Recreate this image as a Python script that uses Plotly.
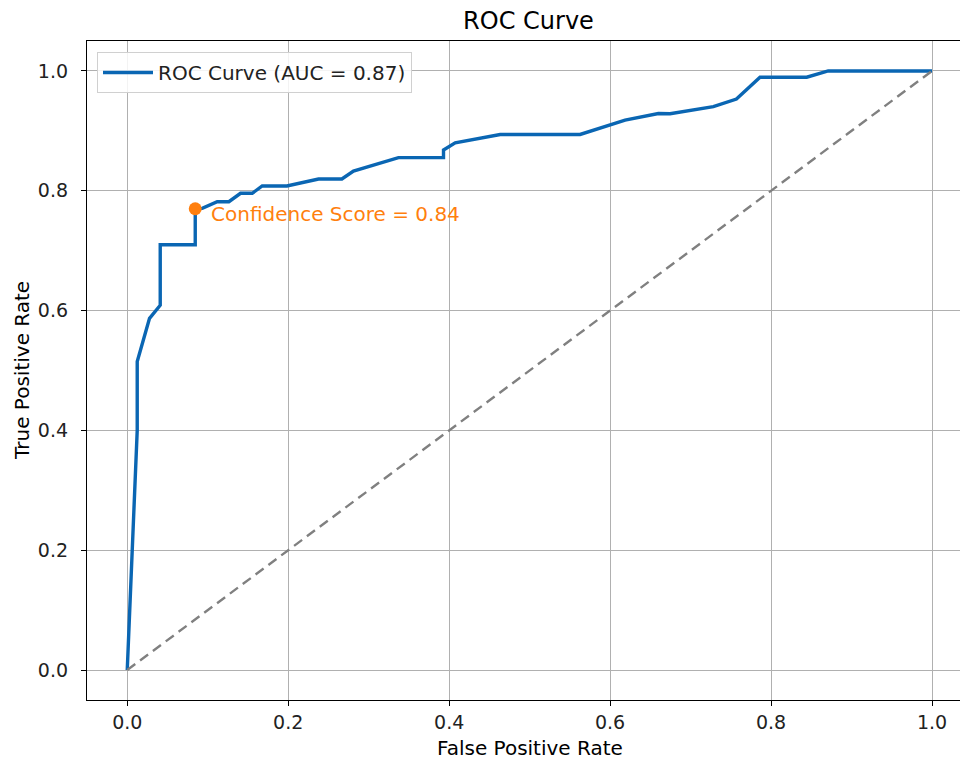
import plotly.graph_objects as go

# ROC curve values
fpr = [0.0, 0.0124, 0.0124, 0.0277, 0.041, 0.041, 0.0845, 0.0845, 0.0932, 0.1118, 0.1263,
       0.1408, 0.1553, 0.1677, 0.1984, 0.2377, 0.2667, 0.2811, 0.337, 0.393, 0.393,
       0.4075, 0.4634, 0.5627, 0.6186, 0.66, 0.6745, 0.7283, 0.757, 0.7863, 0.8443,
       0.871, 1.0]
tpr = [0.0, 0.40, 0.515, 0.587, 0.609, 0.71, 0.71, 0.77, 0.7707, 0.7818, 0.7818,
       0.7958, 0.7958, 0.808, 0.808, 0.8197, 0.8197, 0.833, 0.8553, 0.8553, 0.868,
       0.880, 0.894, 0.894, 0.918, 0.929, 0.9285, 0.9404, 0.953, 0.9895, 0.9895,
       1.0, 1.0]
chance_x = [0.0, 1.0]
chance_y = [0.0, 1.0]
best_fpr = [0.0845]
best_tpr = [0.77]
auc_label = "ROC Curve (AUC = 0.87)"
best_label = "Confidence Score = 0.84"
tick_vals = [0.0, 0.2, 0.4, 0.6, 0.8, 1.0]

FONT = "DejaVu Sans"
fs = 20

W, H = 960, 762
L, T, B = 87, 41, 62
PW = W - L  # 873
PH = H - T - B  # 659

fig = go.Figure()
fig.add_trace(go.Scatter(x=fpr, y=tpr, mode="lines", name=auc_label,
                         line=dict(color="#0a66b3", width=3.4)))
fig.add_trace(go.Scatter(x=chance_x, y=chance_y, mode="lines", showlegend=False,
                         line=dict(color="#808080", width=2.4, dash="10px,6px")))
fig.add_trace(go.Scatter(x=best_fpr, y=best_tpr, mode="markers", showlegend=False,
                         marker=dict(color="#ff7f0e", size=13)))

fig.add_annotation(x=best_fpr[0], y=best_tpr[0], text=best_label, showarrow=False,
                   xanchor="left", yanchor="middle", xshift=14, yshift=-5,
                   font=dict(family=FONT, size=fs, color="#ff7f0e"))

# axis titles (positions relative to the plot area, which starts at page x=87, y=41)
fig.add_annotation(xref="paper", yref="paper", x=(529.5 - 87) / PW, y=-(748 - 700) / PH,
                   text="False Positive Rate", showarrow=False, xanchor="center",
                   yanchor="middle", font=dict(family=FONT, size=fs, color="#000"))
fig.add_annotation(xref="paper", yref="paper", x=(22 - 87) / PW, y=(700 - 371) / PH,
                   text="True Positive Rate", showarrow=False, textangle=-90,
                   xanchor="center", yanchor="middle",
                   font=dict(family=FONT, size=fs, color="#000"))

axis_common = dict(showgrid=True, gridcolor="#b0b0b0", gridwidth=1,
                   showline=True, linecolor="#000", linewidth=1.3,
                   ticks="outside", ticklen=5, tickcolor="#000", tickwidth=1,
                   tickvals=tick_vals, tickformat=".1f", zeroline=False,
                   tickfont=dict(family=FONT, size=fs - 1, color="#222"))

fig.update_layout(
    width=W, height=H,
    margin=dict(l=L, r=0, t=T, b=B),
    paper_bgcolor="white", plot_bgcolor="white",
    title=dict(text="ROC Curve", x=(528.5 - 87) / PW, xref="paper", xanchor="center",
               y=1 - 21 / H, yanchor="middle",
               font=dict(family=FONT, size=24, color="#000")),
    xaxis=dict(range=[-0.05, (960 - 127) / 805], mirror=True, **axis_common),
    yaxis=dict(range=[-0.05, 1.05], ticklabelstandoff=9, **axis_common),
    legend=dict(x=(97 - 87) / PW, y=1 - (52 - 41) / PH, xanchor="left", yanchor="top",
                bgcolor="rgba(255,255,255,0.85)", bordercolor="#d0d0d0", borderwidth=1,
                itemwidth=50,
                font=dict(family=FONT, size=fs, color="#222")),
    showlegend=True,
)

fig.write_html("out.html", config={"displayModeBar": False},
               post_script="document.body.style.margin='0';document.body.style.overflow='hidden';")
